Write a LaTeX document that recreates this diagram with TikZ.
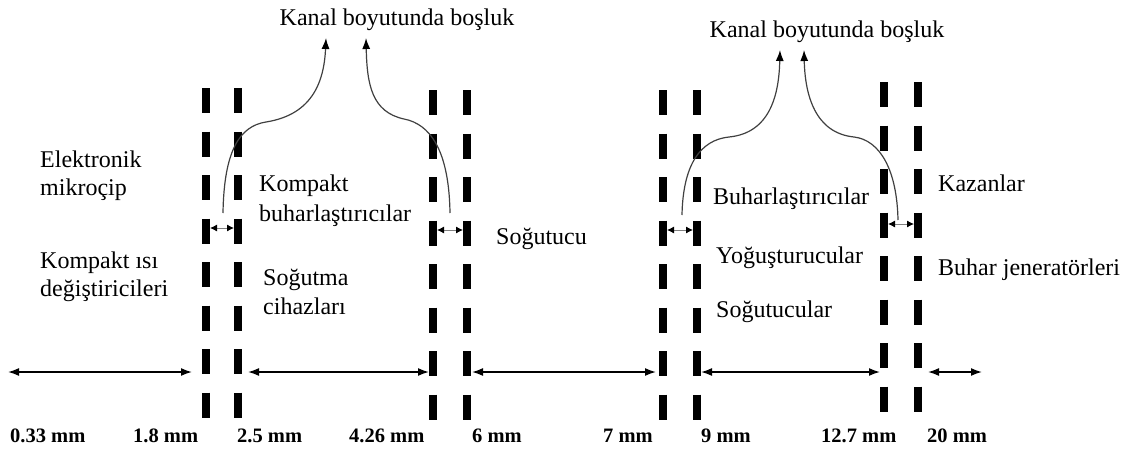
\documentclass[tikz,border=0pt]{standalone}
\usepackage{fontspec}
\setmainfont{Liberation Serif}
\usetikzlibrary{arrows.meta}
\begin{document}
\begin{tikzpicture}[x=1pt,y=-1pt,
  wall/.style={line width=7.5pt, dash pattern=on 25pt off 18.5pt},
  span/.style={line width=1.6pt, {Latex[length=11pt,width=8pt]}-{Latex[length=11pt,width=8pt]}},
  gapline/.style={line width=0.9pt, draw=black!50, {Latex[length=7pt,width=7pt,color=black]}-{Latex[length=7pt,width=7pt,color=black]}},
  lead/.style={line width=1.2pt, draw=black!75, -{Latex[length=11pt,width=8pt,color=black]}},
  lbl/.style={anchor=base west, inner sep=0pt, font=\fontsize{24}{28}\selectfont},
  head/.style={anchor=base, inner sep=0pt, font=\fontsize{24}{28}\selectfont},
  dim/.style={anchor=base west, inner sep=0pt, font=\fontsize{20.5}{24}\selectfont\bfseries}]
\useasboundingbox (0,0) rectangle (1144,450);

% boundary walls (dashed), two per transition
\foreach \n/\x/\t in {a/206/88, b/238/88, c/433/90, d/467/90, e/663/90, f/697/90, g/884/82, h/918/82} {
  \coordinate (\n top) at (\x,\t);
  \coordinate (\n bot) at (\x,\t+330);
  \draw[wall] (\n top) -- (\n bot);
}

% range arrows along the bottom
\coordinate (r0) at (8,372);   \coordinate (r1) at (192,372);
\coordinate (r2) at (248,372); \coordinate (r3) at (429,372);
\coordinate (r4) at (472,372); \coordinate (r5) at (656,372);
\coordinate (r6) at (701,372); \coordinate (r7) at (880,372);
\coordinate (r8) at (928,372); \coordinate (r9) at (982,372);
\draw[span] (r0) -- (r1);
\draw[span] (r2) -- (r3);
\draw[span] (r4) -- (r5);
\draw[span] (r6) -- (r7);
\draw[span] (r8) -- (r9);

% narrow gaps between paired walls
\coordinate (g1a) at (210,228); \coordinate (g1b) at (234,228);
\coordinate (g2a) at (437,230); \coordinate (g2b) at (463,230);
\coordinate (g3a) at (667,230); \coordinate (g3b) at (693,230);
\coordinate (g4a) at (888,224); \coordinate (g4b) at (914,224);
\draw[gapline] (g1a) -- (g1b);
\draw[gapline] (g2a) -- (g2b);
\draw[gapline] (g3a) -- (g3b);
\draw[gapline] (g4a) -- (g4b);

% headings
\node[head] (k1) at (397,25) {Kanal boyutunda boşluk};
\node[head] (k2) at (827,37) {Kanal boyutunda boşluk};

% leaders from the gaps to the headings
\coordinate (s1) at (223,213); \coordinate (t1) at (326,38);
\coordinate (s2) at (450,213); \coordinate (t2) at (366,38);
\coordinate (s3) at (682,215); \coordinate (t3) at (780,50);
\coordinate (s4) at (898,220); \coordinate (t4) at (804,50);
\draw[lead] (s1) .. controls (224,150) and (240,126) .. (266,122)
                 .. controls (310,115) and (324,85) .. (t1);
\draw[lead] (s2) .. controls (449,150) and (430,124) .. (404,119)
                 .. controls (372,112) and (367,85) .. (t2);
\draw[lead] (s3) .. controls (683,165) and (700,140) .. (729,137)
                 .. controls (770,133) and (779,95) .. (t3);
\draw[lead] (s4) .. controls (897,170) and (880,140) .. (854,137)
                 .. controls (815,133) and (805,95) .. (t4);

% application labels
\node[lbl] (el1) at (40,167)  {Elektronik};
\node[lbl] (el2) at (40,195)  {mikroçip};
\node[lbl] (kh1) at (40,268)  {Kompakt ısı};
\node[lbl] (kh2) at (40,296)  {değiştiricileri};
\node[lbl] (kb1) at (259,191) {Kompakt};
\node[lbl] (kb2) at (259,221) {buharlaştırıcılar};
\node[lbl] (sc1) at (263,285) {Soğutma};
\node[lbl] (sc2) at (263,314) {cihazları};
\node[lbl] (sg)  at (496,244) {Soğutucu};
\node[lbl] (bh)  at (713,204) {Buharlaştırıcılar};
\node[lbl] (yg)  at (716,263) {Yoğuşturucular};
\node[lbl] (sl)  at (716,317) {Soğutucular};
\node[lbl] (kz)  at (938,191) {Kazanlar};
\node[lbl] (bj)  at (938,275) {Buhar jeneratörleri};

% size marks
\node[dim] (m1) at (10,442)  {0.33 mm};
\node[dim] (m2) at (133,442) {1.8 mm};
\node[dim] (m3) at (237,442) {2.5 mm};
\node[dim] (m4) at (349,442) {4.26 mm};
\node[dim] (m5) at (472,442) {6 mm};
\node[dim] (m6) at (603,442) {7 mm};
\node[dim] (m7) at (701,442) {9 mm};
\node[dim] (m8) at (821,442) {12.7 mm};
\node[dim] (m9) at (927,442) {20 mm};
\end{tikzpicture}
\end{document}
